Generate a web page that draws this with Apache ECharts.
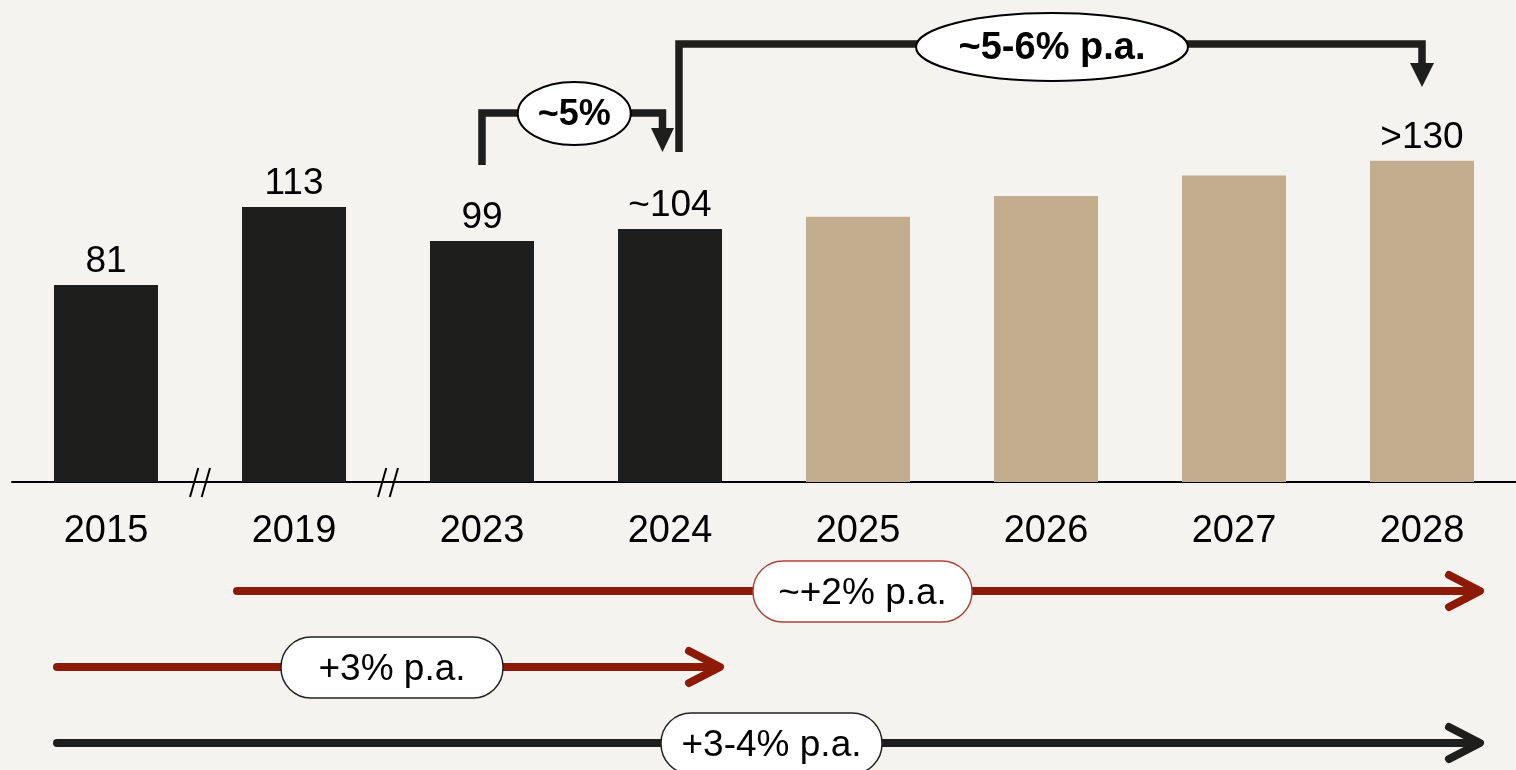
<!DOCTYPE html>
<html>
<head>
<meta charset="utf-8">
<title>Market volume 2015–2028</title>
<script src="https://cdn.jsdelivr.net/npm/echarts@6/dist/echarts.min.js"></script>
<style>
  html, body { margin: 0; padding: 0; background: #f4f3ef; }
  #chart { width: 1516px; height: 770px; }
</style>
</head>
<body>
<div id="chart"></div>
<script>
// Years on the category axis
const years = ['2015', '2019', '2023', '2024', '2025', '2026', '2027', '2028'];
// Reported values (dark bars)
const actualValues = [81, 113, 99, 104, '-', '-', '-', '-'];
// Outlook values (light bars)
const outlookValues = ['-', '-', '-', '-', 109, 117.5, 126, 132];
// Text printed above each bar
const valueLabels = ['81', '113', '99', '~104', '', '', '', '>130'];
// Axis gaps marked with "//" (between these category pairs)
const axisBreaks = [[0, 1], [1, 2]];
// Growth rates
const shortTermRate = '~5%';
const outlookRate = '~5-6% p.a.';
const rate2019to2028 = '~+2% p.a.';
const rate2015to2024 = '+3% p.a.';
const rate2015to2028 = '+3-4% p.a.';

const FONT = '"Liberation Sans", Arial, sans-serif';
const DARK = '#1e1e1c';
const TAN = '#c2ae8f';
const RED = '#8c1a07';

const chart = echarts.init(document.getElementById('chart'), null, { renderer: 'canvas' });

const barLabel = {
  show: true,
  position: 'top',
  distance: 5,
  color: '#000',
  fontFamily: FONT,
  fontSize: 37,
  formatter: p => valueLabels[p.dataIndex]
};

chart.setOption({
  backgroundColor: '#f4f3ef',
  animation: false,
  grid: { left: 12, width: 1508, top: 117, bottom: 288 },
  xAxis: {
    type: 'category',
    data: years,
    axisLine: { show: true, lineStyle: { color: '#000', width: 2 } },
    axisTick: { show: false },
    axisLabel: { color: '#000', fontFamily: FONT, fontSize: 38, margin: 31 }
  },
  yAxis: {
    type: 'value',
    min: 0,
    max: 150,
    show: false,
    splitLine: { show: false }
  },
  series: [
    {
      name: 'Reported',
      type: 'bar',
      stack: 'v',
      barWidth: 104,
      data: actualValues,
      itemStyle: { color: DARK },
      label: barLabel
    },
    {
      name: 'Outlook',
      type: 'bar',
      stack: 'v',
      barWidth: 104,
      data: outlookValues,
      itemStyle: { color: TAN },
      label: barLabel
    }
  ]
});

// ---- overlay annotations anchored to the axes ----
const cx = i => chart.convertToPixel({ xAxisIndex: 0 }, i);
const base = chart.convertToPixel({ yAxisIndex: 0 }, 0);

const g = [];
const line = (pts, color, w, z, cap) => g.push({
  type: 'polyline', z: z || 10, silent: true,
  shape: { points: pts },
  style: { stroke: color, lineWidth: w, fill: null, lineCap: cap || 'butt', lineJoin: cap === 'round' ? 'round' : 'miter' }
});
const text = (x, y, str, size, weight, z) => g.push({
  type: 'text', z: z || 13, silent: true,
  style: { x, y, text: str, fill: '#000', font: `${weight || 'normal'} ${size}px ${FONT}`, align: 'center', verticalAlign: 'middle' }
});

// axis break marks
axisBreaks.forEach(([a, b]) => {
  const mx = (cx(a) + cx(b)) / 2;
  line([[mx - 1.7, base - 14], [mx - 10, base + 15]], '#000', 2, 12);
  line([[mx + 10, base - 14], [mx + 1.7, base + 15]], '#000', 2, 12);
});

// bracket 2023 -> 2024
{
  const x0 = cx(2), x1 = cx(3) - 7.5, yTop = 113;
  line([[x0, 165], [x0, yTop], [x1, yTop], [x1, 130]], DARK, 7.5, 10);
  g.push({ type: 'polygon', z: 10, silent: true, shape: { points: [[x1 - 11.5, 128], [x1 + 11.5, 128], [x1, 152]] }, style: { fill: DARK } });
  const ex = (x0 + x1) / 2 + 2;
  g.push({ type: 'ellipse', z: 11, silent: true, shape: { cx: ex, cy: 113.5, rx: 56.5, ry: 31.5 }, style: { fill: '#fff', stroke: '#000', lineWidth: 2 } });
  text(ex, 115, shortTermRate, 36, 'bold');
}

// bracket 2024 -> 2028
{
  const x0 = cx(3) + 9, x1 = cx(7), yTop = 44;
  line([[x0, 152], [x0, yTop], [x1, yTop], [x1, 65]], DARK, 7.5, 10);
  g.push({ type: 'polygon', z: 10, silent: true, shape: { points: [[x1 - 12, 63], [x1 + 12, 63], [x1, 87]] }, style: { fill: DARK } });
  g.push({ type: 'ellipse', z: 11, silent: true, shape: { cx: 1052, cy: 47, rx: 136, ry: 34 }, style: { fill: '#fff', stroke: '#000', lineWidth: 2 } });
  text(1052, 49, outlookRate, 38, 'bold');
}

// horizontal growth arrows with pill labels
function growthArrow(xStart, xTip, y, color, label, pill, pillStroke) {
  line([[xStart, y], [xTip - 4, y]], color, 8, 10, 'round');
  line([[xTip - 31, y - 16], [xTip, y], [xTip - 31, y + 16]], color, 8, 10, 'round');
  g.push({ type: 'rect', z: 11, silent: true,
    shape: { x: pill[0], y: y - 30, width: pill[1] - pill[0], height: 61, r: 30 },
    style: { fill: '#fff', stroke: pillStroke, lineWidth: 1.5 } });
  text((pill[0] + pill[1]) / 2, y + 3, label, 37, 'normal');
}
growthArrow(cx(1) - 57, cx(7) + 58, 591, RED, rate2019to2028, [753, 972], '#a8473a');
growthArrow(cx(0) - 49, cx(3) + 50, 667, RED, rate2015to2024, [281, 503], '#222');
growthArrow(cx(0) - 49, cx(7) + 58, 743, DARK, rate2015to2028, [661, 882], '#222');

chart.setOption({ graphic: g });
</script>
</body>
</html>
